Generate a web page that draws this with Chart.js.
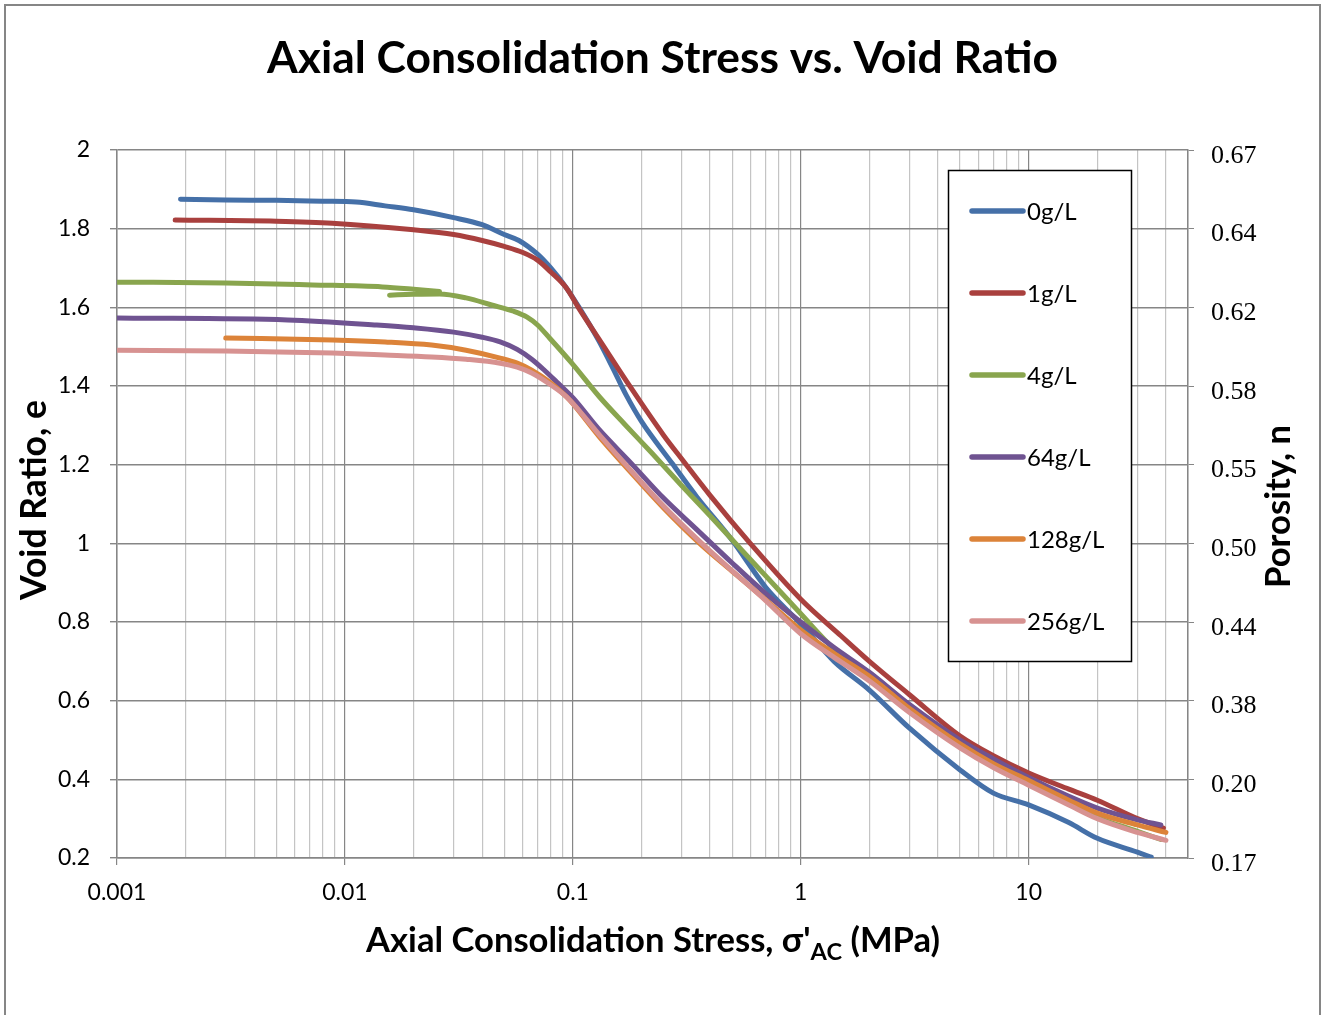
<!DOCTYPE html>
<html><head><meta charset="utf-8">
<script src="https://cdn.jsdelivr.net/npm/chart.js@4.4.1/dist/chart.umd.min.js"></script>
<style>html,body{margin:0;padding:0;background:#fff;} #wrap{width:1328px;height:1015px;position:relative;}</style>
</head><body><div id="wrap"><canvas id="c" width="1328" height="1015"></canvas></div>
<script>
// ---------- DATA ----------
const seriesNames = ['0g/L', '1g/L', '4g/L', '64g/L', '128g/L', '256g/L'];
const seriesColors = ['#4570A8', '#A9403E', '#89A54E', '#6F5391', '#DC8339', '#D79291'];

const stress0 = [0.0019, 0.003, 0.005, 0.008, 0.0112, 0.015, 0.02, 0.03, 0.04, 0.05, 0.058, 0.07, 0.08, 0.093, 0.107, 0.13, 0.15, 0.171, 0.2, 0.272, 0.35, 0.5, 0.7, 1, 1.4, 2, 3, 5, 7, 10, 15, 20, 30, 34.5];
const void0   = [1.875, 1.873, 1.872, 1.870, 1.868, 1.858, 1.848, 1.828, 1.810, 1.785, 1.770, 1.735, 1.700, 1.652, 1.598, 1.515, 1.445, 1.378, 1.310, 1.204, 1.118, 1.008, 0.889, 0.795, 0.700, 0.627, 0.530, 0.424, 0.365, 0.335, 0.290, 0.250, 0.215, 0.202];

const stress1 = [0.0018, 0.005, 0.0088, 0.02, 0.03, 0.04, 0.05, 0.06, 0.07, 0.08, 0.0935, 0.107, 0.13, 0.18, 0.25, 0.3, 0.4, 0.6, 1, 1.5, 2, 3, 5, 7, 10, 15, 20, 30, 39];
const void1   = [1.822, 1.819, 1.814, 1.797, 1.785, 1.770, 1.755, 1.740, 1.720, 1.690, 1.650, 1.595, 1.520, 1.395, 1.275, 1.215, 1.122, 1.000, 0.858, 0.765, 0.700, 0.615, 0.510, 0.460, 0.416, 0.375, 0.347, 0.300, 0.276];

// 4 g/L: two overlapping loading segments (null = break between them)
const stress4 = [0.001, 0.003, 0.0072, 0.0146, 0.02, 0.026, null, 0.0157, 0.02, 0.026, 0.034, 0.044, 0.055, 0.063, 0.07, 0.079, 0.1, 0.131, 0.17, 0.22, 0.3, 0.4, 0.55, 0.7, 1, 1.4, 2, 3, 5, 7, 10, 15, 20, 30, 38];
const void4   = [1.664, 1.662, 1.657, 1.652, 1.646, 1.640, null, 1.631, 1.633, 1.634, 1.624, 1.606, 1.590, 1.575, 1.555, 1.522, 1.455, 1.372, 1.301, 1.232, 1.147, 1.070, 0.983, 0.918, 0.821, 0.732, 0.670, 0.588, 0.495, 0.447, 0.393, 0.340, 0.303, 0.268, 0.247];

const stress64 = [0.001, 0.0056, 0.0138, 0.02, 0.03, 0.04, 0.048, 0.057, 0.066, 0.075, 0.085, 0.1, 0.13, 0.18, 0.25, 0.35, 0.5, 0.7, 1, 1.4, 2, 3, 5, 7, 10, 15, 20, 30, 38];
const void64   = [1.573, 1.568, 1.555, 1.548, 1.537, 1.524, 1.512, 1.493, 1.468, 1.440, 1.410, 1.370, 1.290, 1.204, 1.115, 1.035, 0.950, 0.873, 0.800, 0.735, 0.672, 0.590, 0.500, 0.452, 0.405, 0.357, 0.327, 0.297, 0.284];

const stress128 = [0.003, 0.0088, 0.015, 0.024, 0.034, 0.048, 0.057, 0.066, 0.079, 0.094, 0.1, 0.131, 0.18, 0.25, 0.36, 0.5, 0.7, 1, 1.4, 2, 3, 5, 7, 10, 15, 20, 30, 40];
const void128   = [1.522, 1.517, 1.512, 1.504, 1.491, 1.471, 1.458, 1.440, 1.410, 1.372, 1.355, 1.270, 1.180, 1.090, 1.000, 0.929, 0.857, 0.780, 0.720, 0.662, 0.580, 0.490, 0.440, 0.397, 0.347, 0.314, 0.284, 0.265];

const stress256 = [0.001, 0.003, 0.0088, 0.015, 0.024, 0.034, 0.048, 0.057, 0.066, 0.079, 0.094, 0.131, 0.18, 0.25, 0.36, 0.5, 0.7, 1, 1.4, 2, 3, 5, 7, 10, 15, 20, 30, 40];
const void256   = [1.491, 1.489, 1.484, 1.479, 1.474, 1.468, 1.458, 1.448, 1.433, 1.405, 1.372, 1.275, 1.185, 1.095, 1.005, 0.930, 0.855, 0.770, 0.710, 0.650, 0.570, 0.480, 0.430, 0.385, 0.335, 0.300, 0.265, 0.245];

const seriesStress = [stress0, stress1, stress4, stress64, stress128, stress256];
const seriesVoid   = [void0, void1, void4, void64, void128, void256];

// ---------- TICK LABELS ----------
const stressMajorTicks = [0.001, 0.01, 0.1, 1, 10];
const stressTickLabels = ['0.001', '0.01', '0.1', '1', '10'];
const stressMin = 0.001, stressMax = 50;
const voidTicks = [2, 1.8, 1.6, 1.4, 1.2, 1, 0.8, 0.6, 0.4, 0.2];
const voidTickLabels = ['2', '1.8', '1.6', '1.4', '1.2', '1', '0.8', '0.6', '0.4', '0.2'];
const porosityTickLabels = ['0.67', '0.64', '0.62', '0.58', '0.55', '0.50', '0.44', '0.38', '0.20', '0.17'];

const chartTitle = 'Axial Consolidation Stress vs. Void Ratio';
const xTitleParts = ["Axial Consolidation Stress, \u03C3'", 'AC', ' (MPa)'];
const yTitle = 'Void Ratio, e';
const y2Title = 'Porosity, n';

// ---------- HELPERS ----------
const SANS = 'Lato, "Open Sans", sans-serif';
const SERIF = '"Liberation Serif", "DejaVu Serif", serif';
const GRID_DARK = '#868686', GRID_LIGHT = '#c4c4c4';

function isMajor(v) { return stressMajorTicks.some(m => Math.abs(m - v) / m < 1e-6); }
function idxOf(arr, v) { return arr.findIndex(a => Math.abs(a - v) < 1e-6); }

// minor/major grid positions for the log axis
const xTickValues = [];
stressMajorTicks.forEach(d => { for (let k = 1; k <= 9; k++) { const v = +(d * k).toPrecision(6); if (v <= stressMax + 1e-9) xTickValues.push(v); } });
if (xTickValues[xTickValues.length - 1] < stressMax) xTickValues.push(stressMax);

const datasets = seriesNames.map((name, i) => ({
  label: name,
  data: seriesStress[i].map((x, j) => (x === null ? { x: NaN, y: null } : { x: x, y: seriesVoid[i][j] })),
  borderColor: seriesColors[i],
  backgroundColor: seriesColors[i],
  borderWidth: 5,
  pointRadius: 0,
  pointHoverRadius: 0,
  showLine: true,
  spanGaps: false,
  cubicInterpolationMode: 'monotone',
  borderCapStyle: 'round',
  borderJoinStyle: 'round',
  order: seriesNames.length - i,
  xAxisID: 'x', yAxisID: 'y'
}));

function fitSize(ctx, text, weight, family, target) {
  ctx.font = weight + ' 100px ' + family;
  return 100 * target / ctx.measureText(text).width;
}

const decor = {
  id: 'decor',
  beforeDraw(chart) {
    const ctx = chart.ctx;
    ctx.save();
    ctx.fillStyle = '#fff';
    ctx.fillRect(0, 0, chart.width, chart.height);
    ctx.strokeStyle = GRID_DARK;
    ctx.lineWidth = 2;
    ctx.strokeRect(5, 5, 1315, 1040);
    ctx.restore();
  },
  afterDraw(chart) {
    const ctx = chart.ctx;
    ctx.save();
    ctx.fillStyle = '#000';
    // chart title
    let s = fitSize(ctx, chartTitle, 'bold', SANS, 791);
    ctx.font = 'bold ' + s.toFixed(2) + 'px ' + SANS;
    ctx.textAlign = 'center'; ctx.textBaseline = 'alphabetic';
    ctx.fillText(chartTitle, 662.5, 73);

    // x axis title with subscript
    ctx.font = 'bold 100px ' + SANS;
    const w1 = ctx.measureText(xTitleParts[0]).width, w3 = ctx.measureText(xTitleParts[2]).width;
    const w2 = ctx.measureText(xTitleParts[1]).width;
    const subK = 0.68;
    s = 100 * 574 / (w1 + w2 * subK + w3);
    let x = 366, yb = 952;
    ctx.textAlign = 'left';
    ctx.font = 'bold ' + s.toFixed(2) + 'px ' + SANS;
    ctx.fillText(xTitleParts[0], x, yb); x += w1 * s / 100;
    ctx.font = 'bold ' + (s * subK).toFixed(2) + 'px ' + SANS;
    ctx.fillText(xTitleParts[1], x, yb + 8); x += w2 * s * subK / 100;
    ctx.font = 'bold ' + s.toFixed(2) + 'px ' + SANS;
    ctx.fillText(xTitleParts[2], x, yb);

    // y titles (rotated)
    s = fitSize(ctx, yTitle, 'bold', SANS, 200);
    ctx.save(); ctx.translate(46, 500); ctx.rotate(-Math.PI / 2);
    ctx.font = 'bold ' + s.toFixed(2) + 'px ' + SANS; ctx.textAlign = 'center'; ctx.textBaseline = 'alphabetic';
    ctx.fillText(yTitle, 0, 0); ctx.restore();

    s = fitSize(ctx, y2Title, 'bold', SANS, 163);
    ctx.save(); ctx.translate(1290, 506.5); ctx.rotate(-Math.PI / 2);
    ctx.font = 'bold ' + s.toFixed(2) + 'px ' + SANS; ctx.textAlign = 'center'; ctx.textBaseline = 'alphabetic';
    ctx.fillText(y2Title, 0, 0); ctx.restore();

    // legend
    const bx = 948, by = 170, bw = 183, bh = 491;
    ctx.fillStyle = '#fff'; ctx.fillRect(bx, by, bw, bh);
    ctx.strokeStyle = '#000'; ctx.lineWidth = 1.5; ctx.strokeRect(bx + 0.5, by + 0.5, bw, bh);
    ctx.font = '24px ' + SANS; ctx.textAlign = 'left'; ctx.textBaseline = 'middle';
    seriesNames.forEach((name, i) => {
      const ly = 211 + 82 * i;
      ctx.strokeStyle = seriesColors[i]; ctx.lineWidth = 5.5; ctx.lineCap = 'round';
      ctx.beginPath(); ctx.moveTo(972, ly); ctx.lineTo(1023, ly); ctx.stroke();
      ctx.fillStyle = '#000'; ctx.fillText(name, 1027, ly + 1);
    });
    ctx.restore();
  }
};

new Chart(document.getElementById('c'), {
  type: 'scatter',
  data: { datasets },
  options: {
    responsive: false,
    devicePixelRatio: 1,
    animation: false,
    layout: { padding: { top: 150, bottom: 97, left: 0, right: 0 } },
    plugins: { legend: { display: false }, title: { display: false }, tooltip: { enabled: false } },
    scales: {
      x: {
        type: 'logarithmic', position: 'bottom', min: stressMin, max: stressMax,
        afterBuildTicks(scale) { scale.ticks = xTickValues.map(v => ({ value: v, major: isMajor(v) })); },
        afterFit(scale) { scale.height = 60; },
        ticks: {
          autoSkip: false, maxRotation: 0, minRotation: 0, padding: 14, color: '#000',
          font: { family: SANS, size: 23 },
          callback(value) { const i = stressMajorTicks.findIndex(m => Math.abs(m - value) / m < 1e-6); return i >= 0 ? stressTickLabels[i] : ''; }
        },
        grid: {
          color: (c) => (c.tick && isMajor(c.tick.value)) ? GRID_DARK : GRID_LIGHT,
          tickColor: (c) => (c.tick && isMajor(c.tick.value)) ? GRID_DARK : 'rgba(0,0,0,0)',
          lineWidth: 1.2, tickLength: 7
        },
        border: { display: true, color: GRID_DARK, width: 1.5 }
      },
      y: {
        type: 'linear', position: 'left', min: 0.2, max: 2,
        afterBuildTicks(scale) { scale.ticks = voidTicks.slice().reverse().map(v => ({ value: v })); },
        afterFit(scale) { scale.width = 117; },
        ticks: {
          padding: 20, color: '#000', font: { family: SANS, size: 23 },
          callback(value) { const i = idxOf(voidTicks, value); return i >= 0 ? voidTickLabels[i] : ''; }
        },
        grid: { color: GRID_DARK, lineWidth: 1.4, tickLength: 7, tickColor: GRID_DARK },
        border: { display: true, color: GRID_DARK, width: 1.5 }
      },
      y2: {
        type: 'linear', position: 'right', min: 0.2, max: 2,
        afterBuildTicks(scale) { scale.ticks = voidTicks.slice().reverse().map(v => ({ value: v })); },
        afterFit(scale) { scale.width = 140; },
        ticks: {
          padding: 17, labelOffset: 6, color: '#000', font: { family: SERIF, size: 26 },
          callback(value) { const i = idxOf(voidTicks, value); return i >= 0 ? porosityTickLabels[i] : ''; }
        },
        grid: { drawOnChartArea: false, color: GRID_DARK, tickLength: 6, tickColor: GRID_DARK },
        border: { display: true, color: GRID_DARK, width: 1.5 }
      }
    }
  },
  plugins: [decor]
});
</script>
</body></html>
